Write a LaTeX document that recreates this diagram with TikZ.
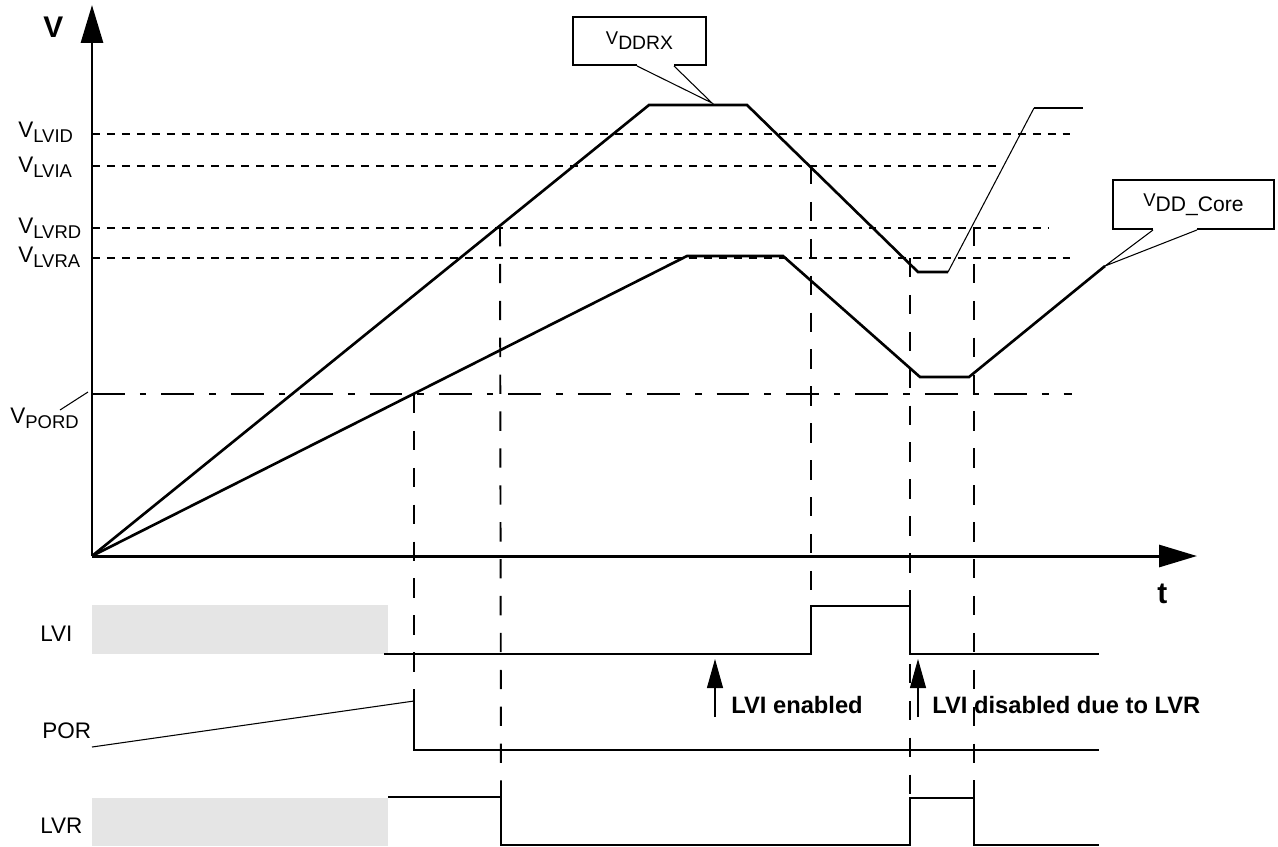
\documentclass[tikz,border=0pt]{standalone}
\usepackage{fontspec}
\setmainfont{Liberation Sans}
\usetikzlibrary{arrows.meta,positioning}

\newcommand{\Vlvl}[1]{V\raisebox{-3.4pt}{\fontsize{10.5}{12}\selectfont #1}}
\newcommand{\Vcall}[2]{{\fontsize{10.5}{12}\selectfont V}\raisebox{-3pt}{\fontsize{#2}{12}\selectfont #1}}

\begin{document}
\begin{tikzpicture}[
    x=0.02cm, y=-0.02cm,
    inner sep=0pt,
    font=\fontsize{12.8}{15}\selectfont,
    axis/.style={line width=1.7pt, -{Triangle[length=0.76cm,width=0.44cm]}},
    curve/.style={line width=1.5pt},
    level/.style={line width=1.1pt, dash pattern=on 4.5pt off 4pt},
    porlevel/.style={line width=1.1pt, dash pattern=on 18.7pt off 8.5pt on 3.8pt off 8.5pt},
    marker/.style={line width=1.1pt, dash pattern=on 11pt off 10pt},
    signal/.style={line width=1.1pt},
    leader/.style={line width=0.6pt},
    masked/.style={fill=black!10, draw=none},
    callbox/.style={rectangle, draw, line width=1.1pt, inner sep=0pt, fill=white},
    note/.style={font=\fontsize{13.5}{16}\selectfont\bfseries, anchor=base west},
    axlabel/.style={font=\fontsize{17}{20}\selectfont\bfseries, anchor=base west},
    flag/.style={line width=0.6pt, -{Triangle[length=0.58cm,width=0.32cm]}}
]
    \useasboundingbox (0,0) rectangle (1278,846);

    % Masked parts of the outputs
    \fill[masked] (92,605) rectangle (388,654);
    \fill[masked] (92,798) rectangle (388,846);

    % Threshold levels
    \foreach \name/\yy/\xend/\ly in {LVID/134/1070/137, LVIA/166/998/172, LVRD/228/1048/233, LVRA/258/1070/262} {
        \draw[level] (92,\yy) -- (\xend,\yy);
        \node[anchor=base west] (lbl_\name) at (18,\ly) {\Vlvl{\name}};
    }
    \draw[porlevel] (92,394) -- (1072,394);
    \node[anchor=base west] (lbl_pord) at (10,423) {\Vlvl{PORD}};
    \coordinate (pord_pin) at (60,410);
    \coordinate (pord_end) at (88,392);
    \draw[leader] (pord_pin) -- (pord_end);

    % Axes
    \coordinate (o) at (92,556);
    \coordinate (v_end) at (92,5);
    \coordinate (t_end) at (1197,556);
    \draw[axis] (o) -- (v_end);
    \draw[axis] (o) -- (t_end);
    \node[axlabel] (v_lbl) at (43,37) {V};
    \node[axlabel] (t_lbl) at (1157,603) {t};

    % V_DDRX
    \coordinate (ddrx_a) at (649,105);
    \coordinate (ddrx_b) at (747,105);
    \coordinate (ddrx_c) at (918,272);
    \coordinate (ddrx_d) at (948,272);
    \coordinate (ddrx_e) at (1034,108);
    \coordinate (ddrx_f) at (1083,108);
    \draw[curve] (o) -- (ddrx_a) -- (ddrx_b) -- (ddrx_c) -- (ddrx_d);
    \draw[leader] (ddrx_d) -- (ddrx_e);
    \draw[curve] (ddrx_e) -- (ddrx_f);

    % V_DD_Core
    \coordinate (core_a) at (687,256);
    \coordinate (core_b) at (783,256);
    \coordinate (core_c) at (920,377);
    \coordinate (core_d) at (969,377);
    \coordinate (core_e) at (1105,266);
    \draw[curve] (o) -- (core_a) -- (core_b) -- (core_c) -- (core_d) -- (core_e);

    % Callouts
    \node[callbox, minimum width=2.66cm, minimum height=0.96cm] (ddrx_box) at (639.5,41) {\Vcall{DDRX}{11}};
    \coordinate (ddrx_tip) at (712,103);
    \draw[white, line width=1.8pt] ([xshift=-0.05cm]ddrx_box.south) -- ([xshift=0.69cm]ddrx_box.south);
    \draw[leader] ([xshift=-0.05cm]ddrx_box.south) -- (ddrx_tip) -- ([xshift=0.69cm]ddrx_box.south);

    \node[callbox, minimum width=3.22cm, minimum height=0.98cm] (core_box) at (1193.5,204.5) {\Vcall{DD\_Core}{12}\hspace{0.45cm}};
    \draw[white, line width=1.8pt] ([xshift=-0.81cm]core_box.south) -- ([xshift=0.07cm]core_box.south);
    \draw[leader] ([xshift=-0.81cm]core_box.south) -- (core_e) -- ([xshift=0.07cm]core_box.south);

    % Signal levels
    \coordinate (por_hi) at (414,701);
    \coordinate (lvr_fall) at (501,797);
    \coordinate (lvi_rise) at (811,606);
    \coordinate (lvr_low) at (910,845);
    \coordinate (lvr_end) at (974,798);

    % Timing markers
    \draw[marker] (414,394) -- (por_hi);
    \draw[marker] (500,227) -- (lvr_fall);
    \draw[marker] (811,165) -- (lvi_rise);
    \draw[marker] (910,258) -- (lvr_low);
    \draw[marker] (974,227) -- (lvr_end);

    % LVI
    \node[anchor=base west] (lvi_lbl) at (40,641) {LVI};
    \draw[signal] (384,654) -- (811,654) -- (lvi_rise) -- (910,606) -- (910,654) -- (1099,654);
    % POR
    \node[anchor=base west] (por_lbl) at (42,738) {POR};
    \draw[leader] (92,747) -- (por_hi);
    \draw[signal] (por_hi) -- (414,750) -- (1099,750);
    % LVR
    \node[anchor=base west] (lvr_lbl) at (40,833) {LVR};
    \draw[signal] (388,797) -- (lvr_fall) -- (501,845) -- (lvr_low) -- (910,798) -- (lvr_end) -- (974,845) -- (1099,845);

    % Events
    \coordinate (on_tail) at (715,717);
    \coordinate (on_tip) at (715,659);
    \draw[flag] (on_tail) -- (on_tip);
    \node[note] (lvi_on) at (731,713) {LVI enabled};
    \coordinate (off_tail) at (918,717);
    \coordinate (off_tip) at (918,659);
    \draw[flag] (off_tail) -- (off_tip);
    \node[note] (lvi_off) at (932,713) {LVI disabled due to LVR};
\end{tikzpicture}
\end{document}
